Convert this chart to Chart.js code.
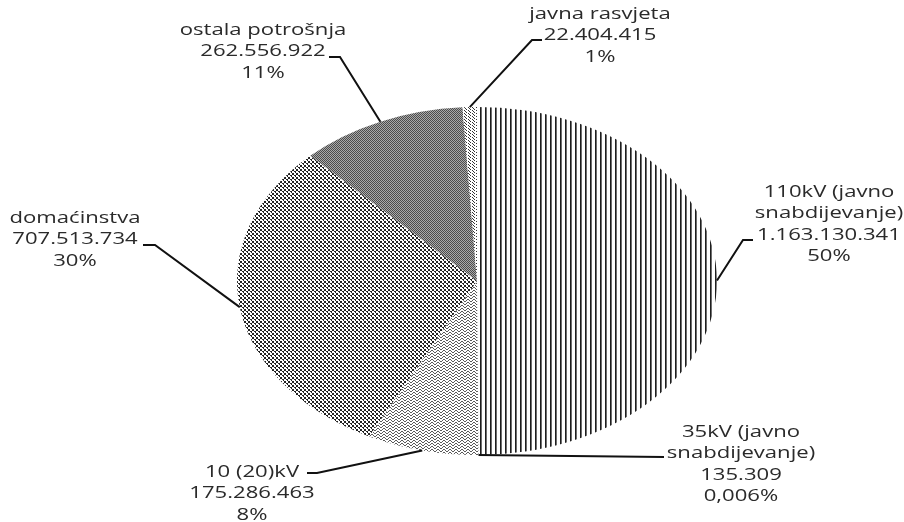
<!DOCTYPE html>
<html>
<head>
<meta charset="utf-8">
<script src="https://cdn.jsdelivr.net/npm/chart.js@4/dist/chart.umd.min.js"></script>
<style>
html,body{margin:0;padding:0;background:#fff;}
#wrap{width:904px;height:522px;}
</style>
</head>
<body>
<div id="wrap"><canvas id="pieChart" width="904" height="522"></canvas></div>
<script>

/* Data */

const categories = ["110kV (javno snabdijevanje)", "35kV (javno snabdijevanje)", "10 (20)kV", "domaćinstva", "ostala potrošnja", "javna rasvjeta"];
const nameLines = [["110kV (javno", "snabdijevanje)"], ["35kV (javno", "snabdijevanje)"], ["10 (20)kV"], ["domaćinstva"], ["ostala potrošnja"], ["javna rasvjeta"]];
const values = [1163130341, 135309, 175286463, 707513734, 262556922, 22404415];
const percentLabels = ["50%", "0,006%", "8%", "30%", "11%", "1%"];


/* Label layout (text centre x, first line y, leader elbow) */

const labelX = [829, 741, 252, 75, 263, 600];
const labelY = [192, 432, 472, 218, 30, 14];
const elbowA = [[753,240], null, [307,473], [143,245], [329,57], [542,40]];
const elbowB = [[743,240], [664,457], [317,473], [155,245], [340,57], [532,40]];

const squash = 0.725;   // pie is drawn as an ellipse
const lineH = 21.5;
const textStretch = 1.3;


/* Patterns */

function makePattern(w, h, drawTile){
const c = document.createElement("canvas");
c.width = w; c.height = h;
const g = c.getContext("2d");
g.fillStyle = "#fff";
g.fillRect(0,0,w,h);
drawTile(g);
const p = g.createPattern(c, "repeat");
p.setTransform(new DOMMatrix().scale(1, 1/squash));
return p;
}

const vLines = makePattern(5, 4, g=>{
g.fillStyle = "#1e1e1e"; g.fillRect(0,0,1,4);
g.fillStyle = "#6e6e6e"; g.fillRect(1,0,1,4);
});

const plain = makePattern(4, 4, g=>{});

const zigzag = makePattern(6, 3, g=>{
g.fillStyle = "#5a5a5a";
g.fillRect(0,0,1,1); g.fillRect(1,1,1,1); g.fillRect(2,2,2,1);
g.fillRect(4,1,1,1); g.fillRect(5,0,1,1);
});

const dots = makePattern(4, 4, g=>{
g.fillStyle = "#222";
g.fillRect(0,0,2,2);
g.fillRect(2,2,2,1); g.fillRect(3,3,1,1);
});

const greyDots = makePattern(2, 2, g=>{
g.fillStyle = "#4c4c4c"; g.fillRect(0,0,2,2);
g.fillStyle = "#aaaaaa"; g.fillRect(0,0,1,1); g.fillRect(1,1,1,1);
});

const diag = makePattern(4, 3, g=>{
g.fillStyle = "#333";
for(let i=0;i<3;i++) g.fillRect(i,i,1,1);
});


/* Ellipse plugin */

const ellipsePlugin = {
id: "ellipse",
beforeDatasetsDraw(chart){
const a = chart.chartArea;
const cx = (a.left + a.right)/2, cy = (a.top + a.bottom)/2;
chart.ctx.save();
chart.ctx.imageSmoothingEnabled = false;
chart.ctx.translate(cx, cy);
chart.ctx.scale(1, squash);
chart.ctx.translate(-cx, -cy);
},
afterDatasetsDraw(chart){
chart.ctx.restore();
}
};


/* Labels + leader lines */

function fmt(v){
return String(v).replace(/\B(?=(\d{3})+(?!\d))/g, ".");
}

const labelPlugin = {
id: "pieLabels",
afterDraw(chart){
const ctx = chart.ctx;
const arcs = chart.getDatasetMeta(0).data;

ctx.save();
ctx.strokeStyle = "#111";
ctx.lineWidth = 2;

arcs.forEach((arc, i)=>{
const mid = (arc.startAngle + arc.endAngle)/2;
const r = arc.outerRadius;
const px = arc.x + r*Math.cos(mid);
const py = arc.y + r*squash*Math.sin(mid);

ctx.beginPath();
if(elbowA[i]) ctx.moveTo(elbowA[i][0], elbowA[i][1]);
else ctx.moveTo(px, py);
ctx.lineTo(elbowB[i][0], elbowB[i][1]);
if(elbowA[i]) ctx.lineTo(px, py);
ctx.stroke();
});

ctx.fillStyle = "#2a2a2a";
ctx.font = "17px 'Open Sans'";
ctx.textAlign = "center";
ctx.textBaseline = "middle";

categories.forEach((c, i)=>{
const lines = nameLines[i].concat([fmt(values[i]), percentLabels[i]]);
lines.forEach((t, k)=>{
ctx.save();
ctx.translate(labelX[i], labelY[i] + k*lineH);
ctx.scale(textStretch, 1);
ctx.fillText(t, 0, 0);
ctx.restore();
});
});

ctx.restore();
}
};


/* Chart */

const ctx = document.getElementById("pieChart").getContext("2d");

const chart = new Chart(ctx, {
type: "pie",
data: {
labels: categories,
datasets: [{
data: values,
backgroundColor: [vLines, plain, zigzag, dots, greyDots, diag],
borderWidth: 0
}]
},
options: {
responsive: false,
animation: false,
layout: { padding: { left: 237, right: 187, top: 41, bottom: 1 } },
plugins: {
legend: { display: false },
tooltip: { enabled: false }
}
},
plugins: [ellipsePlugin, labelPlugin]
});

</script>
</body>
</html>
